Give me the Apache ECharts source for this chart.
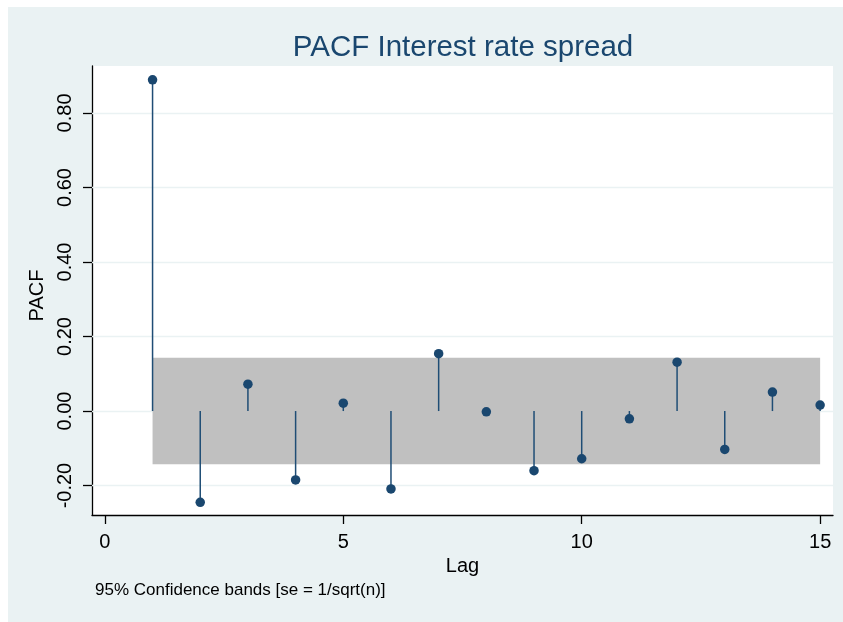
<!DOCTYPE html>
<html>
<head>
<meta charset="utf-8">
<script src="https://cdn.jsdelivr.net/npm/echarts@6/dist/echarts.min.js"></script>
<style>
  html, body { margin: 0; padding: 0; background: #ffffff; overflow: hidden; }
  #wrap { position: fixed; left: 8px; top: 7px; right: 0; bottom: 0; background: #eaf2f3; }
  #chart { width: 835px; height: 615px; }
</style>
</head>
<body>
<div id="wrap"><div id="chart"></div></div>
<script>
// Partial autocorrelations of the interest rate spread, lags 1..15
const lags = [1, 2, 3, 4, 5, 6, 7, 8, 9, 10, 11, 12, 13, 14, 15];
const pacf = [0.889, -0.245, 0.072, -0.185, 0.021, -0.209, 0.154, -0.002,
              -0.160, -0.128, -0.021, 0.131, -0.103, 0.051, 0.016];
// 95% confidence band half-width (1.96 * 1/sqrt(n))
const ciHalf = 0.143;
const xTicks = [0, 5, 10, 15];
const yTicks = [-0.2, 0, 0.2, 0.4, 0.6, 0.8];

const FONT = 'Liberation Sans, Arial, Helvetica, sans-serif';
const NAVY = '#1a476f';

const points = lags.map((l, i) => [l, pacf[i]]);

const chart = echarts.init(document.getElementById('chart'), null, { renderer: 'canvas' });
chart.setOption({
  backgroundColor: 'transparent',
  animation: false,
  textStyle: { fontFamily: FONT },
  title: {
    text: 'PACF Interest rate spread',
    left: 450, top: 21, textAlign: 'center',
    textStyle: { fontFamily: FONT, fontSize: 29.5, fontWeight: 'normal', color: NAVY }
  },
  graphic: [{
    type: 'text', left: 87, top: 575,
    style: { text: '95% Confidence bands [se = 1/sqrt(n)]', font: '17px ' + FONT, fill: '#000' }
  }],
  grid: {
    left: 84, top: 59, right: 10, bottom: 107,
    show: true, backgroundColor: '#ffffff', borderWidth: 0
  },
  xAxis: {
    type: 'value', min: -0.27, max: 15.27,
    name: 'Lag', nameLocation: 'middle', nameGap: 33,
    nameTextStyle: { fontFamily: FONT, fontSize: 20, color: '#000' },
    axisLine: { onZero: false, lineStyle: { color: '#000', width: 1.3 } },
    axisTick: { show: true, length: 9, customValues: xTicks, lineStyle: { color: '#000', width: 1.3 } },
    axisLabel: { customValues: xTicks, margin: 17, fontSize: 20, color: '#000', fontFamily: FONT },
    splitLine: { show: false }
  },
  yAxis: {
    type: 'value', min: -0.279, max: 0.926,
    name: 'PACF', nameLocation: 'middle', nameGap: 28,
    nameTextStyle: { fontFamily: FONT, fontSize: 20, color: '#000', padding: [0, 10, 0, 0] },
    axisLine: { onZero: false, lineStyle: { color: '#000', width: 1.3 } },
    axisTick: { show: true, length: 9, customValues: yTicks, lineStyle: { color: '#000', width: 1.3 } },
    axisLabel: {
      customValues: yTicks, rotate: 90, margin: 17, fontSize: 20, color: '#000', fontFamily: FONT,
      formatter: v => v.toFixed(2)
    },
    splitLine: { show: false }
  },
  series: [
    {
      // horizontal grid lines at the y ticks
      type: 'line', data: [], z: 1, silent: true,
      markLine: {
        silent: true, symbol: 'none', label: { show: false }, z: 1,
        lineStyle: { color: '#eaf2f3', width: 1.3, type: 'solid' },
        data: yTicks.map(v => ({ yAxis: v }))
      }
    },
    {
      // confidence band
      type: 'line', data: [], z: 2, silent: true,
      markArea: {
        silent: true, z: 2,
        itemStyle: { color: '#c0c0c0', opacity: 1 },
        data: [[{ xAxis: lags[0], yAxis: -ciHalf }, { xAxis: lags[lags.length - 1], yAxis: ciHalf }]]
      }
    },
    {
      // spikes from zero
      type: 'bar', data: points, z: 3, barWidth: 1.5,
      itemStyle: { color: '#1f4d75' }
    },
    {
      type: 'scatter', data: points, z: 4,
      symbol: 'circle', symbolSize: 9.5,
      itemStyle: { color: NAVY, opacity: 1 }
    }
  ]
});
</script>
</body>
</html>
